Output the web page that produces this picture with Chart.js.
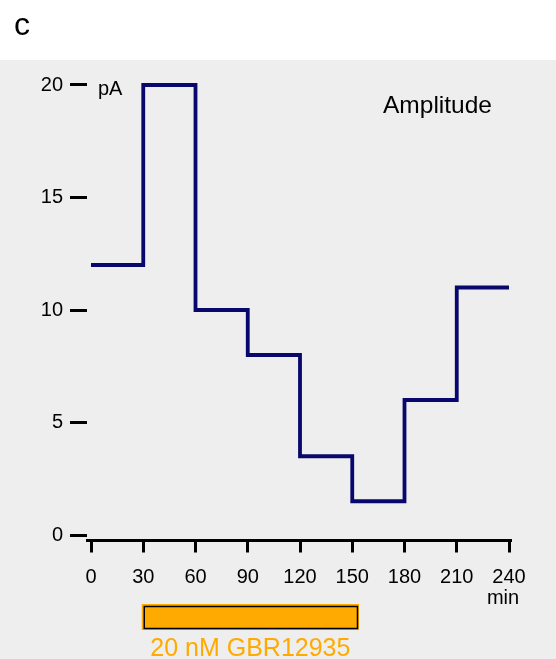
<!DOCTYPE html>
<html>
<head>
<meta charset="utf-8">
<script src="https://cdn.jsdelivr.net/npm/chart.js@4"></script>
<style>
  html, body { margin: 0; padding: 0; background: #ffffff; }
  #wrap { width: 556px; height: 659px; position: relative; }
</style>
</head>
<body>
<div id="wrap"><canvas id="c" width="556" height="659"></canvas></div>
<script>
// ---- data ----
const segmentStarts = [0, 30, 60, 90, 120, 150, 180, 210];
const segmentEnd = 240;
const amplitudes = [12, 20, 10, 8, 3.5, 1.5, 6, 11];   // pA
const xTickValues = [0, 30, 60, 90, 120, 150, 180, 210, 240];
const yTickValues = [0, 5, 10, 15, 20];
const drugPeriod = [30, 153];   // min
const drugLabel = '20 nM GBR12935';
const panelLabel = 'c';
const titleText = 'Amplitude';
const yUnit = 'pA';
const xUnit = 'min';

const FONT = '"Liberation Sans", Arial, Helvetica, sans-serif';
const ORANGE = '#ffaa00';
const NAVY = '#07076d';

const points = segmentStarts.map((t, i) => ({ x: t, y: amplitudes[i] }));
points.push({ x: segmentEnd, y: amplitudes[amplitudes.length - 1] });

const decor = {
  id: 'decor',
  beforeDraw(chart) {
    const ctx = chart.ctx;
    ctx.save();
    ctx.fillStyle = '#ffffff';
    ctx.fillRect(0, 0, chart.width, chart.height);
    ctx.fillStyle = '#eeeeee';
    ctx.fillRect(0, 60, chart.width, chart.height - 60);
    ctx.restore();
  },
  afterDraw(chart) {
    const ctx = chart.ctx;
    const xs = chart.scales.x, ys = chart.scales.y;
    ctx.save();
    ctx.fillStyle = '#000';
    ctx.textBaseline = 'alphabetic';
    // panel label
    ctx.font = '32px ' + FONT;
    ctx.textAlign = 'left';
    ctx.fillText(panelLabel, 14, 35);
    // title
    ctx.font = '24.5px ' + FONT;
    ctx.fillText(titleText, 383, 112.5);
    // y unit
    ctx.font = '20px ' + FONT;
    ctx.fillText(yUnit, 98, 95);
    // x unit
    ctx.textAlign = 'center';
    ctx.fillText(xUnit, xs.getPixelForValue(segmentEnd) - 6, 604);
    // drug bar
    const x0 = xs.getPixelForValue(drugPeriod[0]);
    const x1 = xs.getPixelForValue(drugPeriod[1]);
    ctx.fillStyle = ORANGE;
    ctx.fillRect(x0 - 1.5, 604, x1 - x0 + 3, 26);
    ctx.strokeStyle = '#000';
    ctx.lineWidth = 1.5;
    ctx.strokeRect(x0 + 1, 606.5, x1 - x0 - 1, 22);
    ctx.fillStyle = ORANGE;
    ctx.font = '25px ' + FONT;
    ctx.textAlign = 'center';
    ctx.fillText(drugLabel, (x0 + x1) / 2, 655.5);
    ctx.restore();
  }
};

new Chart(document.getElementById('c'), {
  type: 'line',
  data: {
    datasets: [{
      data: points,
      stepped: 'before',
      borderColor: NAVY,
      borderWidth: 3.8,
      pointRadius: 0,
      fill: false,
      clip: false,
      borderJoinStyle: 'miter',
      borderCapStyle: 'butt'
    }]
  },
  options: {
    responsive: false,
    animation: false,
    events: [],
    layout: { padding: { left: 0, top: 80, right: 45.5, bottom: 0 } },
    plugins: { legend: { display: false }, tooltip: { enabled: false } },
    scales: {
      x: {
        type: 'linear',
        min: -2.3,
        max: 240.86,
        afterBuildTicks: (s) => { s.ticks = xTickValues.map(v => ({ value: v })); },
        afterFit: (s) => { s.height = 119; },
        ticks: {
          color: '#000',
          font: { family: FONT, size: 20 },
          padding: 13,
          maxRotation: 0,
          autoSkip: false,
          callback: (v) => String(v)
        },
        grid: { display: true, drawOnChartArea: false, drawTicks: true, tickLength: 12.5, lineWidth: 3, color: '#000' },
        border: { display: true, width: 3, color: '#000' }
      },
      y: {
        type: 'linear',
        min: -0.2222,
        max: 20.2222,
        afterBuildTicks: (s) => { s.ticks = yTickValues.map(v => ({ value: v })); },
        afterFit: (s) => { s.width = 87; },
        ticks: {
          color: '#000',
          font: { family: FONT, size: 20 },
          padding: 7,
          autoSkip: false,
          callback: (v) => String(v)
        },
        grid: { display: true, drawOnChartArea: false, drawTicks: true, tickLength: 17, lineWidth: 3, color: '#000' },
        border: { display: false }
      }
    }
  },
  plugins: [decor]
});
</script>
</body>
</html>
